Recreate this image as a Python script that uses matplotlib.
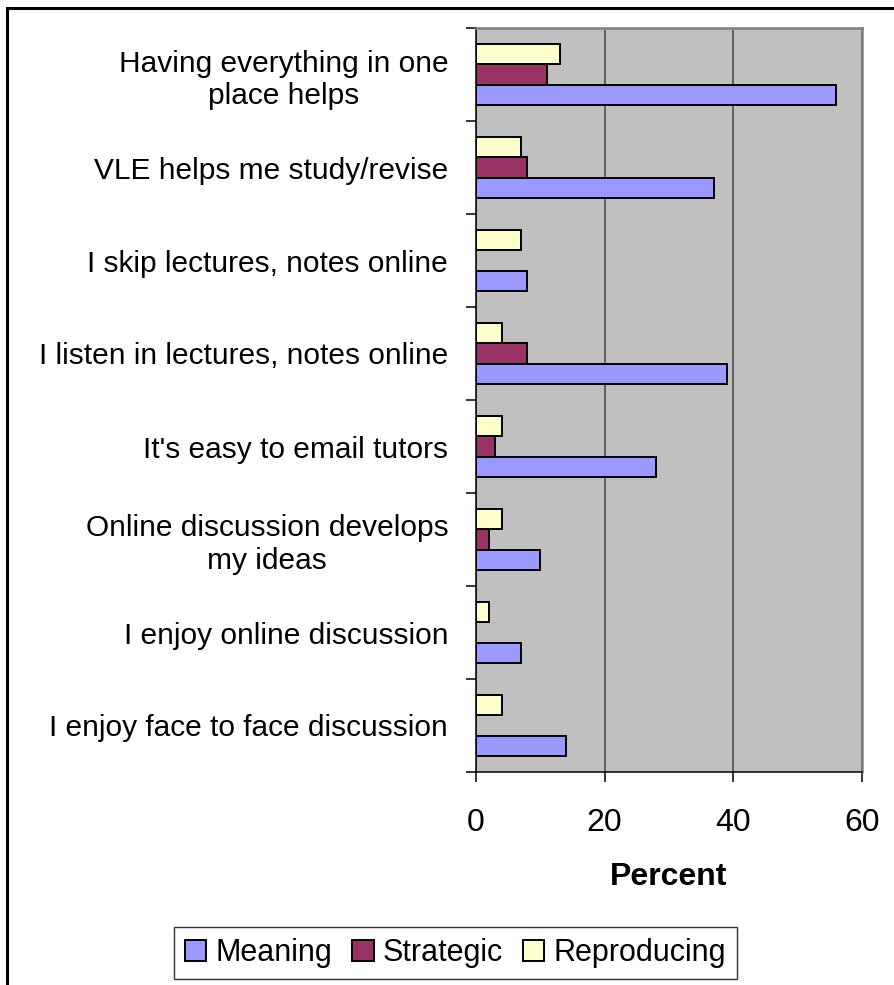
import numpy as np
import matplotlib
matplotlib.use("Agg")
import matplotlib.pyplot as plt
from matplotlib.patches import Rectangle
from matplotlib.ticker import FixedLocator, NullFormatter

plt.rcParams["font.family"] = ["Liberation Sans", "DejaVu Sans"]

# =============================================================================
# DATA
# =============================================================================

categories = [
    "Having everything in one\nplace helps",
    "VLE helps me study/revise",
    "I skip lectures, notes online",
    "I listen in lectures, notes online",
    "It's easy to email tutors",
    "Online discussion develops\nmy ideas",
    "I enjoy online discussion",
    "I enjoy face to face discussion",
]
meaning     = [56, 37, 8, 39, 28, 10, 7, 14]
strategic   = [11, 8, 0, 8, 3, 2, 0, 0]
reproducing = [13, 7, 7, 4, 4, 4, 2, 4]

series_names = ["Meaning", "Strategic", "Reproducing"]
x_ticks = [0, 20, 40, 60]

COLORS = {"Meaning": "#9999FF", "Strategic": "#993366", "Reproducing": "#FFFFCC"}
# offset within a category (axis inverted -> positive = lower)
OFFSETS = {"Meaning": 0.222, "Strategic": 0.0, "Reproducing": -0.222}
BAR_H = 0.222

W, H = 894, 985

fig = plt.figure(figsize=(W / 100, H / 100), dpi=100)
ax = fig.add_axes([476 / W, 1 - 772 / H, (862 - 476) / W, (772 - 28) / H])

y = np.arange(len(categories))
values = {"Meaning": meaning, "Strategic": strategic, "Reproducing": reproducing}

for name in series_names:
    vals = np.array(values[name])
    lw = np.where(vals > 0, 1.4, 0.0)
    ax.barh(y + OFFSETS[name], vals, height=BAR_H, color=COLORS[name],
            edgecolor="black", linewidth=lw, label=name, zorder=3)

ax.set_facecolor("#C0C0C0")
ax.set_xlim(0, 60)
ax.set_ylim(len(categories) - 0.5, -0.5)

ax.set_xticks(x_ticks)
ax.set_xticklabels([str(t) for t in x_ticks], fontsize=23)
ax.xaxis.grid(True, color="#4d4d4d", linewidth=1.2, zorder=1)
ax.set_axisbelow(True)

# category boundaries carry the tick marks, labels sit at centres
ax.yaxis.set_major_locator(FixedLocator(np.arange(-0.5, len(categories), 1.0)))
ax.yaxis.set_major_formatter(NullFormatter())
ax.yaxis.set_minor_locator(FixedLocator(y))
ax.set_yticklabels(categories, minor=True, fontsize=21.5, multialignment="center")
ax.tick_params(axis="y", which="minor", length=0, pad=20)
ax.tick_params(axis="y", which="major", length=7, width=1.1, color="black")
ax.tick_params(axis="x", length=7, width=1.1, pad=19)

ax.set_xlabel("Percent", fontsize=23, fontweight="bold", labelpad=17)

for side in ("left", "bottom"):
    ax.spines[side].set_color("black")
    ax.spines[side].set_linewidth(1.1)
for side in ("top", "right"):
    ax.spines[side].set_color("#808080")
    ax.spines[side].set_linewidth(1.8)

leg = fig.legend(loc="center", bbox_to_anchor=(455.5 / W, 1 - 953 / H), ncol=3,
                 fontsize=22, frameon=True, fancybox=False, edgecolor="black",
                 handlelength=0.7, handleheight=0.7, handletextpad=0.3,
                 columnspacing=0.65, borderpad=0.35)
leg.get_frame().set_linewidth(1.0)

# chart-area border (only left and top are inside the picture)
fig.patches.append(Rectangle((7 / W, -0.1), 1.2, 1.1 - 8 / H, transform=fig.transFigure,
                             fill=False, edgecolor="black", linewidth=2.2))

fig.savefig("out.png", dpi=100)
